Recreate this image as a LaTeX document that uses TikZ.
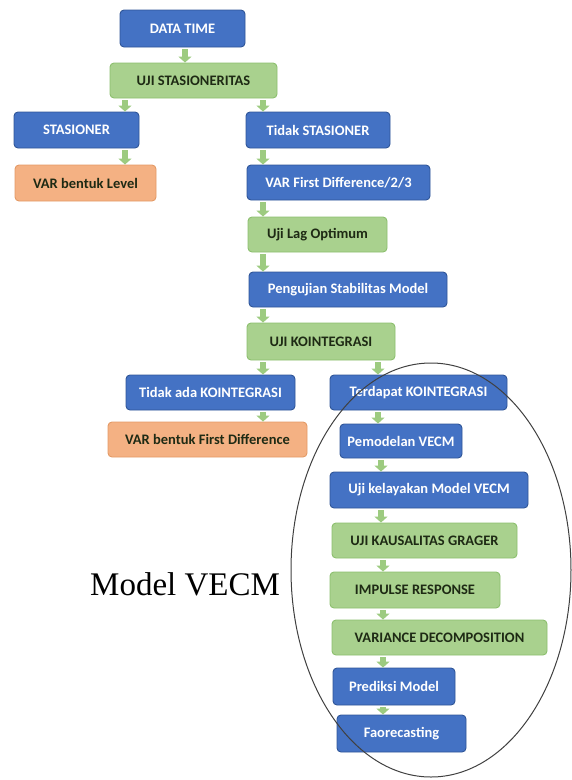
\documentclass[tikz,border=0pt]{standalone}
\usepackage{fontspec}
\setmainfont{Carlito}
\newfontfamily\tnr{Liberation Serif}
\usetikzlibrary{arrows.meta}
\definecolor{bfill}{HTML}{4472C4}
\definecolor{bdraw}{HTML}{2F5597}
\definecolor{gfill}{HTML}{A9D18E}
\definecolor{gdraw}{HTML}{8CBF6E}
\definecolor{ofill}{HTML}{F4B183}
\definecolor{odraw}{HTML}{E39A66}
\definecolor{garr}{HTML}{9DCB80}
\definecolor{gtext}{HTML}{1E2A14}
\tikzset{
  boxbase/.style={rounded corners=4pt, line width=0.9pt, inner sep=0pt,
    font=\fontsize{14.5}{16}\selectfont\bfseries},
  bluebox/.style={boxbase, fill=bfill, draw=bdraw, text=white},
  greenbox/.style={boxbase, fill=gfill, draw=gdraw, text=gtext},
  orangebox/.style={boxbase, fill=ofill, draw=odraw, text=gtext},
  arr/.style={draw=garr, line width=6pt, -{Triangle[width=13pt,length=6pt]}, garr},
}
\newcommand{\bx}[7]{\node[#1, minimum width=#5pt, minimum height=#6pt] (#2) at (#3,#4) {#7};}
\begin{document}
\begin{tikzpicture}[x=1pt,y=-1pt]
\useasboundingbox (0,0) rectangle (571,780);
\bx{bluebox}{dt}{182.5}{28.5}{125}{37}{DATA TIME}
\bx{greenbox}{uji}{193.5}{80.5}{167}{35}{UJI STASIONERITAS}
\bx{bluebox}{st}{76.5}{130}{125}{36}{STASIONER}
\bx{orangebox}{lvl}{85.5}{183}{141}{36}{VAR bentuk Level}
\bx{bluebox}{tst}{318}{130}{144}{36}{Tidak STASIONER}
\bx{bluebox}{vfd}{338.5}{182.5}{183}{35}{VAR First Difference/2/3}
\bx{greenbox}{lag}{317.5}{234.5}{139}{35}{Uji Lag Optimum}
\bx{bluebox}{stab}{348}{289.5}{198}{35}{Pengujian Stabilitas Model}
\bx{greenbox}{koin}{321}{341.5}{148}{37}{UJI KOINTEGRASI}
\bx{bluebox}{tak}{210.5}{392.5}{169}{35}{Tidak ada KOINTEGRASI}
\bx{bluebox}{ter}{418.5}{392.5}{177}{35}{Terdapat KOINTEGRASI}
\bx{orangebox}{vfdd}{207.5}{439.5}{199}{35}{VAR bentuk First Difference}
\bx{bluebox}{pem}{401}{441}{122}{34}{Pemodelan VECM}
\bx{bluebox}{kel}{429}{490}{198}{36}{Uji kelayakan Model VECM}
\bx{greenbox}{kaus}{424.5}{540.5}{185}{35}{UJI KAUSALITAS GRAGER}
\bx{greenbox}{imp}{415}{590}{170}{36}{IMPULSE RESPONSE}
\bx{greenbox}{var}{439.5}{637.5}{215}{35}{VARIANCE DECOMPOSITION}
\bx{bluebox}{pred}{394}{686.5}{122}{37}{Prediksi Model}
\bx{bluebox}{fao}{401.5}{733.5}{129}{37}{Faorecasting}
% arrow columns
\coordinate (xa) at (185,0);
\coordinate (xb) at (125,0);
\coordinate (xc) at (263,0);
\coordinate (xd) at (378,0);
\coordinate (xe) at (381,0);
\coordinate (xf) at (383,0);
\draw[arr] ([yshift=-2pt]dt.south -| xa) -- (uji.north -| xa);
\draw[arr] ([yshift=-2pt]uji.south -| xb) -- (st.north -| xb);
\draw[arr] ([yshift=-2pt]uji.south -| xc) -- (tst.north -| xc);
\draw[arr] ([yshift=-2pt]st.south -| xb) -- (lvl.north -| xb);
\draw[arr] ([yshift=-2pt]tst.south -| xc) -- (vfd.north -| xc);
\draw[arr] ([yshift=-2pt]vfd.south -| xc) -- (lag.north -| xc);
\draw[arr] ([yshift=-2pt]lag.south -| xc) -- (stab.north -| xc);
\draw[arr] ([yshift=-2pt]stab.south -| xc) -- (koin.north -| xc);
\draw[arr] ([yshift=-2pt]koin.south -| xc) -- (tak.north -| xc);
\draw[arr] ([yshift=-2pt]koin.south -| xd) -- (ter.north -| xd);
\draw[arr] ([yshift=-2pt]tak.south -| xc) -- (vfdd.north -| xc);
\draw[arr] ([yshift=-2pt]ter.south -| xd) -- (pem.north -| xd);
\draw[arr] ([yshift=-2pt]pem.south -| xe) -- (kel.north -| xe);
\draw[arr] ([yshift=-2pt]kel.south -| xe) -- (kaus.north -| xe);
\draw[arr] ([yshift=-2pt]kaus.south -| xf) -- (imp.north -| xf);
\draw[arr] ([yshift=-2pt]imp.south -| xf) -- (var.north -| xf);
\draw[arr] ([yshift=-2pt]var.south -| xf) -- (pred.north -| xf);
\draw[arr] ([yshift=-2pt]pred.south -| xf) -- (fao.north -| xf);
% ellipse
\coordinate (ec) at (431,570);
\draw[line width=1pt, draw=black!75] (ec) ellipse [x radius=140pt, y radius=207pt];
\node[anchor=base west, inner sep=0pt, font=\tnr\fontsize{33}{38}\selectfont] (mv) at (90,595) {Model VECM};
\end{tikzpicture}
\end{document}
